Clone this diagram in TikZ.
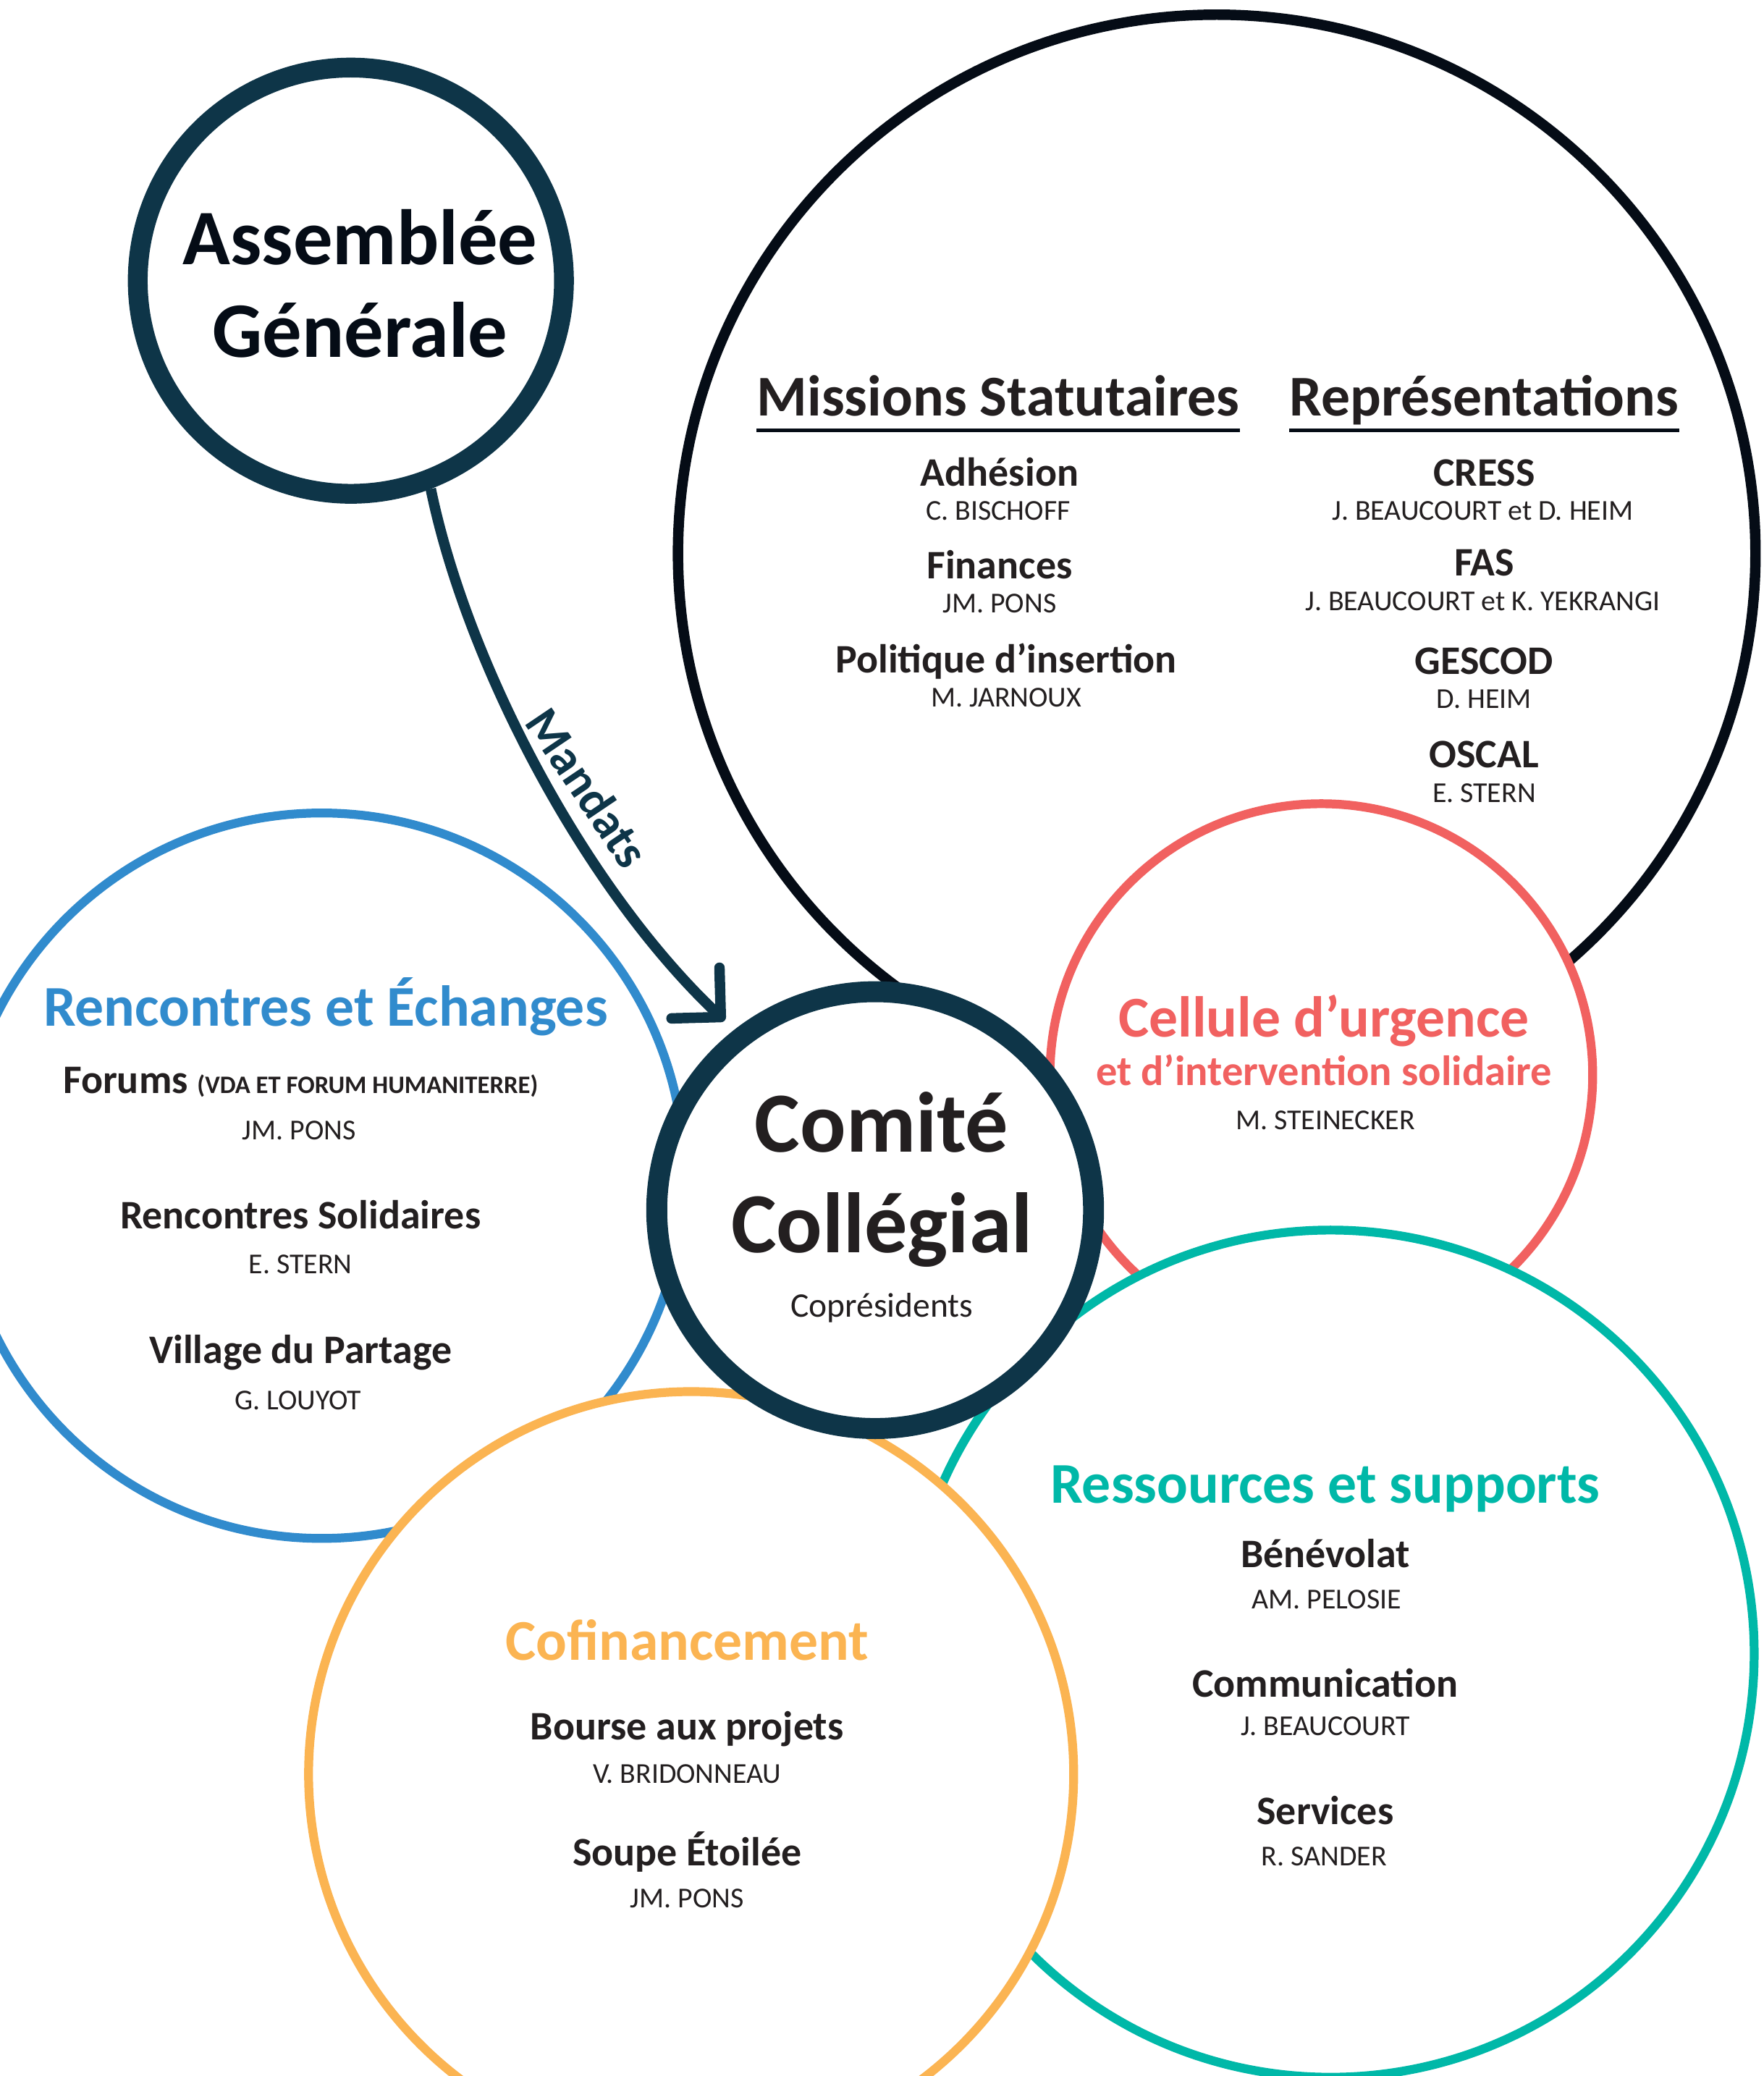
\documentclass[tikz,border=0pt]{standalone}
\usepackage{fontspec}
\setmainfont{Carlito}
\usetikzlibrary{arrows.meta}

\definecolor{navy}{HTML}{0E3548}
\definecolor{noir}{HTML}{050C16}
\definecolor{texte}{HTML}{231F20}
\definecolor{bleu}{HTML}{318BCD}
\definecolor{rouge}{HTML}{F16160}
\definecolor{vert}{HTML}{00B8A8}
\definecolor{jaune}{HTML}{FBB452}

\tikzset{
  ring/.style={circle, draw, fill=white, inner sep=0pt},
  gros/.style={font=\bfseries\fontsize{33.8}{40}\selectfont, text=noir, anchor=base, inner sep=0pt},
  entete/.style={font=\bfseries\fontsize{24.8}{28}\selectfont, text=texte, anchor=base, inner sep=0pt},
  titre/.style={font=\bfseries\fontsize{24.8}{28}\selectfont, anchor=base, inner sep=0pt},
  item/.style={font=\bfseries\fontsize{17.4}{20}\selectfont, text=texte, anchor=base, inner sep=0pt},
  nom/.style={font=\fontsize{12.4}{14}\selectfont, text=texte, anchor=base, inner sep=0pt}
}

\begin{document}
\begin{tikzpicture}[x=0.02cm, y=-0.02cm]
\useasboundingbox (0,0) rectangle (1332,1568);
\clip (0,0) rectangle (1332,1568);

% les cercles
\node [ring, draw=noir, line width=4.5pt, minimum size=16.28cm] (missions) at (919,418) {};
\node [ring, draw=navy, line width=8.5pt, minimum size=6.44cm] (ag) at (265,212) {};
\node [ring, draw=bleu, line width=3.8pt, minimum size=10.96cm] (rencontres) at (243,888) {};
\node [ring, draw=rouge, line width=3.8pt, minimum size=8.2cm] (cellule) at (998,812) {};
\node [ring, draw=vert, line width=3.8pt, minimum size=12.8cm] (ressources) at (1005,1249) {};
\node [ring, draw=jaune, line width=3.8pt, minimum size=11.56cm] (cofin) at (522,1340) {};
\node [ring, draw=navy, line width=9pt, minimum size=6.6cm] (cc) at (661,914) {};

% mandats
\draw [navy, line width=4.5pt, shorten >=5.7pt, -{Straight Barb[length=15pt, width=30pt, round]}]
  (ag.-69) .. controls +(27,131) and +(-114,-108) .. (cc.128);
\node [font=\bfseries\fontsize{21}{25}\selectfont, text=navy, rotate=-56] (mandats) at (444,595) {Mandats};

% Assemblee Generale
\node [gros] (ag1) at (272,200) {Assemblée};
\node [gros] (ag2) at (272,270) {Générale};

% Comite Collegial
\node [gros, font=\bfseries\fontsize{36.8}{44}\selectfont, text=texte] (cc1) at (666,870) {Comité};
\node [gros, font=\bfseries\fontsize{36.8}{44}\selectfont, text=texte] (cc2) at (666,946) {Collégial};
\node [nom, font=\fontsize{14.8}{18}\selectfont] (cc3) at (666,995) {Coprésidents};

% missions et representations
\node [entete] (ms) at (754,314) {Missions Statutaires};
\node [entete] (rep) at (1121,314) {Représentations};
\draw [noir, line width=1.8pt] ([yshift=-6.3pt]ms.base west) -- ([yshift=-6.3pt]ms.base east);
\draw [noir, line width=1.8pt] ([yshift=-6.3pt]rep.base west) -- ([yshift=-6.3pt]rep.base east);
\node [item] (adh) at (755,367) {Adhésion};
\node [nom] (adhn) at (754,393) {C. BISCHOFF};
\node [item] (fin) at (755,437) {Finances};
\node [nom] (finn) at (755,463) {JM. PONS};
\node [item] (pol) at (760,508) {Politique d’insertion};
\node [nom] (poln) at (760,534) {M. JARNOUX};
\node [item] (cress) at (1121,367) {CRESS};
\node [nom] (cressn) at (1120,393) {J. BEAUCOURT et D. HEIM};
\node [item] (fas) at (1121,435) {FAS};
\node [nom] (fasn) at (1120,461) {J. BEAUCOURT et K. YEKRANGI};
\node [item] (gescod) at (1121,509) {GESCOD};
\node [nom] (gescodn) at (1121,535) {D. HEIM};
\node [item] (oscal) at (1121,580) {OSCAL};
\node [nom] (oscaln) at (1121,606) {E. STERN};

% rencontres et echanges
\node [titre, text=bleu] (ret) at (246,775) {Rencontres et Échanges};
\node [item] (forums) at (227,826) {Forums {\fontsize{10.8}{12}\selectfont(VDA ET FORUM HUMANITERRE)}};
\node [nom] (forumsn) at (226,861) {JM. PONS};
\node [item] (rs) at (227,928) {Rencontres Solidaires};
\node [nom] (rsn) at (227,962) {E. STERN};
\node [item] (vp) at (227,1030) {Village du Partage};
\node [nom] (vpn) at (225,1065) {G. LOUYOT};

% cellule d'urgence
\node [titre, text=rouge] (cu) at (1000,783) {Cellule d’urgence};
\node [item, font=\bfseries\fontsize{18.2}{21}\selectfont, text=rouge] (cu2) at (1000,820) {et d’intervention solidaire};
\node [nom] (cun) at (1001,853) {M. STEINECKER};

% ressources et supports
\node [titre, text=vert] (rst) at (1001,1135) {Ressources et supports};
\node [item] (ben) at (1001,1184) {Bénévolat};
\node [nom] (benn) at (1002,1215) {AM. PELOSIE};
\node [item] (com) at (1001,1282) {Communication};
\node [nom] (comn) at (1001,1311) {J. BEAUCOURT};
\node [item] (serv) at (1001,1378) {Services};
\node [nom] (servn) at (1000,1409) {R. SANDER};

% cofinancement
\node [titre, text=jaune] (cot) at (519,1254) {Cofinancement};
\node [item] (bap) at (519,1314) {Bourse aux projets};
\node [nom] (bapn) at (519,1347) {V. BRIDONNEAU};
\node [item] (se) at (519,1409) {Soupe Étoilée};
\node [nom] (sen) at (519,1441) {JM. PONS};
\end{tikzpicture}
\end{document}
